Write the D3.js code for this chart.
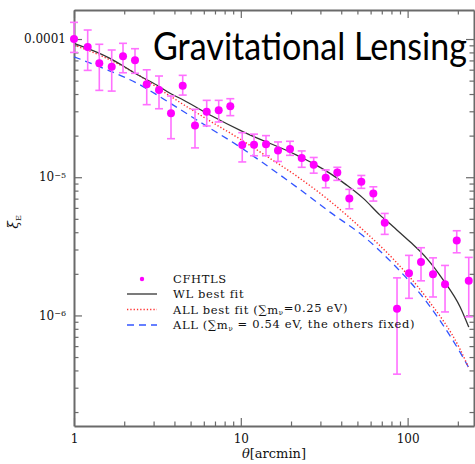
<!DOCTYPE html>
<html>
<head>
<meta charset="utf-8">
<script src="https://cdn.jsdelivr.net/npm/d3@7/dist/d3.min.js"></script>
<style>
  html, body { margin: 0; padding: 0; background: #fff; }
  svg { display: block; }
</style>
</head>
<body>
<svg id="chart" width="475" height="464"></svg>
<script>
// CFHTLS shear correlation ξ_E(θ) measurements with 1σ errors
const theta = [1.00, 1.208, 1.418, 1.683, 1.967, 2.321, 2.729, 3.233, 3.815, 4.484,
  5.313, 6.246, 7.37, 8.65, 10.2, 12.0, 14.16, 16.71, 19.72, 23.18,
  27.35, 32.28, 37.89, 44.72, 52.78, 62.29, 72.91, 86.4, 101.9, 120.3,
  142.0, 167.6, 197.0, 232.5];
const xiE = [1.00e-4, 8.75e-5, 6.67e-5, 6.30e-5, 7.49e-5, 7.01e-5, 4.70e-5, 4.27e-5, 2.90e-5, 4.59e-5,
  2.37e-5, 2.98e-5, 3.05e-5, 3.26e-5, 1.71e-5, 1.72e-5, 1.73e-5, 1.56e-5, 1.60e-5, 1.38e-5,
  1.23e-5, 9.91e-6, 1.08e-5, 7.03e-6, 9.27e-6, 7.64e-6, 4.68e-6, 1.12e-6, 2.02e-6, 2.44e-6,
  1.99e-6, 1.68e-6, 3.49e-6, 1.78e-6];
const xiHi = [1.32e-4, 1.162e-4, 9.16e-5, 8.33e-5, 9.31e-5, 8.51e-5, 5.99e-5, 5.40e-5, 3.87e-5, 5.46e-5,
  3.10e-5, 3.60e-5, 3.60e-5, 3.70e-5, 2.10e-5, 2.05e-5, 2.00e-5, 1.80e-5, 1.82e-5, 1.55e-5,
  1.39e-5, 1.13e-5, 1.18e-5, 8.17e-6, 1.03e-5, 8.53e-6, 5.47e-6, 1.87e-6, 2.72e-6, 3.09e-6,
  2.61e-6, 2.30e-6, 4.10e-6, 2.63e-6];
const xiLo = [8.0e-5, 5.93e-5, 4.25e-5, 4.20e-5, 5.70e-5, 5.65e-5, 3.35e-5, 3.13e-5, 1.90e-5, 3.93e-5,
  1.63e-5, 2.35e-5, 2.51e-5, 2.79e-5, 1.29e-5, 1.43e-5, 1.43e-5, 1.30e-5, 1.44e-5, 1.18e-5,
  1.07e-5, 8.39e-6, 9.49e-6, 5.91e-6, 8.31e-6, 6.72e-6, 3.86e-6, 3.76e-7, 1.33e-6, 1.78e-6,
  1.36e-6, 1.06e-6, 2.84e-6, 9.77e-7];

// Model curves
const wlTheta = [1.00, 1.643, 1.975, 2.321, 3.13, 3.763, 4.521, 6.54, 10.35, 21.63,
  27.1, 34.26, 43.15, 54.26, 68.33, 82.1, 103.4, 130.2, 163.7, 206.1, 232.5];
const wlFit = [9.31e-5, 7.25e-5, 6.38e-5, 5.65e-5, 4.65e-5, 4.05e-5, 3.62e-5, 2.82e-5, 2.13e-5, 1.446e-5,
  1.26e-5, 1.066e-5, 8.77e-6, 7.03e-6, 5.32e-6, 4.38e-6, 3.41e-6, 2.59e-6, 1.80e-6, 1.154e-6, 8.23e-7];

const allTheta = [1.00, 1.499, 2.376, 3.763, 6.54, 10.35, 13.64, 21.63, 34.26, 54.26,
  82.1, 130.2, 206.1, 231.2];
const allFit = [9.05e-5, 7.44e-5, 5.58e-5, 3.87e-5, 2.55e-5, 1.827e-5, 1.471e-5, 1.019e-5, 6.72e-6, 4.14e-6,
  2.556e-6, 1.334e-6, 5.70e-7, 4.24e-7];

const nuTheta = [1.00, 1.499, 2.376, 3.763, 5.96, 9.89, 13.64, 21.63, 34.26, 54.26,
  82.1, 130.2, 206.1, 231.2];
const nuFixed = [7.44e-5, 6.14e-5, 4.80e-5, 3.44e-5, 2.425e-5, 1.653e-5, 1.266e-5, 8.48e-6, 5.59e-6, 3.75e-6,
  2.35e-6, 1.248e-6, 5.42e-7, 4.24e-7];

// Axis ticks
const xTicks = [1,2,3,4,5,6,7,8,9,10,20,30,40,50,60,70,80,90,100,200];
const xMajor = [1, 10, 100];
const xTickLabels = ["1", "10", "100"];
const yTicks = [2e-7,3e-7,4e-7,5e-7,6e-7,7e-7,8e-7,9e-7,1e-6,2e-6,3e-6,4e-6,5e-6,6e-6,7e-6,8e-6,9e-6,
  1e-5,2e-5,3e-5,4e-5,5e-5,6e-5,7e-5,8e-5,9e-5,1e-4];
const yMajor = [1e-6, 1e-5, 1e-4];

const svg = d3.select("#chart");
const plotL = 74, plotR = 474, plotT = 10, plotB = 426;
const serif = "'DejaVu Serif', 'Liberation Serif', serif";

const x = d3.scaleLog().domain([1, 250]).range([plotL, plotR]);
const y = d3.scaleLog().domain([Math.pow(10, -6.8), Math.pow(10, -3.79)]).range([plotB, plotT]);

const isMajor = (v, list) => list.some(m => Math.abs(v / m - 1) < 1e-6);
const axisColor = "#6a6a6a";

function styleAxis(g, majors, horizontal, sign) {
  g.select(".domain").attr("stroke", axisColor).attr("stroke-width", 2);
  g.selectAll(".tick line")
    .attr("stroke", axisColor)
    .attr("stroke-width", 1.2)
    .each(function(d) {
      const len = isMajor(d, majors) ? 8 : 4.5;
      d3.select(this).attr(horizontal ? "y2" : "x2", sign * len);
    });
}

// bottom axis
const gB = svg.append("g").attr("transform", `translate(0,${plotB})`)
  .call(d3.axisBottom(x).tickValues(xTicks).tickSizeOuter(0)
    .tickFormat(d => { const i = xMajor.findIndex(m => Math.abs(d / m - 1) < 1e-6); return i >= 0 ? xTickLabels[i] : ""; }));
styleAxis(gB, xMajor, true, -1);
gB.selectAll(".tick text").attr("y", 8).attr("dy", "0.71em")
  .attr("font-family", serif).attr("font-size", 12).attr("fill", "#111");

// top axis
const gT = svg.append("g").attr("transform", `translate(0,${plotT})`)
  .call(d3.axisTop(x).tickValues(xTicks).tickSizeOuter(0).tickFormat(""));
styleAxis(gT, xMajor, true, 1);

// left axis
const gL = svg.append("g").attr("transform", `translate(${plotL},0)`)
  .call(d3.axisLeft(y).tickValues(yTicks).tickSizeOuter(0).tickFormat(""));
styleAxis(gL, yMajor, false, 1);

// right axis
const gR = svg.append("g").attr("transform", `translate(${plotR},0)`)
  .call(d3.axisRight(y).tickValues(yTicks).tickSizeOuter(0).tickFormat(""));
styleAxis(gR, yMajor, false, -1);

// y tick labels
const yLab = svg.append("g").attr("font-family", serif).attr("font-size", 12).attr("fill", "#111")
  .attr("text-anchor", "end");
yLab.append("text").attr("x", plotL - 8).attr("y", y(1e-4)).attr("dy", "0.35em").text("0.0001");
[[1e-5, "−5"], [1e-6, "−6"]].forEach(([v, e]) => {
  const t = yLab.append("text").attr("x", plotL - 8).attr("y", y(v)).attr("dy", "0.35em");
  t.append("tspan").text("10");
  t.append("tspan").attr("dy", "-0.45em").attr("font-size", 8).text(e);
});

// axis titles
const xt = svg.append("text").attr("x", (plotL + plotR) / 2).attr("y", 458)
  .attr("text-anchor", "middle").attr("font-family", serif).attr("font-size", 13).attr("fill", "#111");
xt.append("tspan").attr("font-style", "italic").text("θ");
xt.append("tspan").text("[arcmin]");

const yt = svg.append("text").attr("transform", `translate(18,${(plotT + plotB) / 2 + 4}) rotate(-90)`)
  .attr("text-anchor", "middle").attr("font-family", serif).attr("font-size", 14).attr("fill", "#111");
yt.append("tspan").attr("font-style", "italic").text("ξ");
yt.append("tspan").attr("dy", "0.35em").attr("font-size", 8).text("E");

// model curves
const line = (xs, ys) => d3.line().x((d, i) => x(xs[i])).y((d, i) => y(ys[i])).curve(d3.curveMonotoneX)(ys);
const curves = svg.append("g").attr("fill", "none");
curves.append("path").attr("d", line(nuTheta, nuFixed))
  .attr("stroke", "#3355ff").attr("stroke-width", 1.3).attr("stroke-dasharray", "7,5");
curves.append("path").attr("d", line(allTheta, allFit))
  .attr("stroke", "#ff3030").attr("stroke-width", 1.4).attr("stroke-dasharray", "1.3,2");
curves.append("path").attr("d", line(wlTheta, wlFit))
  .attr("stroke", "#333").attr("stroke-width", 1.3);

// error bars and points
const pts = svg.append("g");
const errColor = "#ff70ff";
theta.forEach((t, i) => {
  const cx = x(t);
  pts.append("line").attr("x1", cx).attr("x2", cx).attr("y1", y(xiHi[i])).attr("y2", y(xiLo[i]))
    .attr("stroke", errColor).attr("stroke-width", 1.6);
  [xiHi[i], xiLo[i]].forEach(v => {
    pts.append("line").attr("x1", cx - 4).attr("x2", cx + 4).attr("y1", y(v)).attr("y2", y(v))
      .attr("stroke", errColor).attr("stroke-width", 1.6);
  });
});
pts.selectAll("circle").data(theta).join("circle")
  .attr("cx", d => x(d)).attr("cy", (d, i) => y(xiE[i])).attr("r", 4).attr("fill", "#ff00ff");

// legend
const lg = svg.append("g").attr("font-family", serif).attr("font-size", 11.5)
  .attr("letter-spacing", 0.65).attr("fill", "#111");
const legendRows = [279, 294, 309.5, 325];
lg.append("circle").attr("cx", 142).attr("cy", legendRows[0]).attr("r", 2.2).attr("fill", "#ff00ff");
lg.append("line").attr("x1", 127).attr("x2", 157).attr("y1", legendRows[1]).attr("y2", legendRows[1])
  .attr("stroke", "#333").attr("stroke-width", 1.3);
lg.append("line").attr("x1", 127).attr("x2", 157).attr("y1", legendRows[2]).attr("y2", legendRows[2])
  .attr("stroke", "#ff3030").attr("stroke-width", 1.4).attr("stroke-dasharray", "1.3,2");
lg.append("line").attr("x1", 127).attr("x2", 157).attr("y1", legendRows[3]).attr("y2", legendRows[3])
  .attr("stroke", "#3355ff").attr("stroke-width", 1.3).attr("stroke-dasharray", "7,5");

const tx = 173;
lg.append("text").attr("x", tx).attr("y", legendRows[0]).attr("dy", "0.35em").text("CFHTLS");
lg.append("text").attr("x", tx).attr("y", legendRows[1]).attr("dy", "0.35em").text("WL best fit");
const l3 = lg.append("text").attr("x", tx).attr("y", legendRows[2]).attr("dy", "0.35em");
l3.append("tspan").text("ALL best fit (∑m");
l3.append("tspan").attr("dy", "0.25em").attr("font-size", 7).text("ν");
l3.append("tspan").attr("dy", "-0.25em").text("=0.25 eV)");
const l4 = lg.append("text").attr("x", tx).attr("y", legendRows[3]).attr("dy", "0.35em");
l4.append("tspan").text("ALL (∑m");
l4.append("tspan").attr("dy", "0.25em").attr("font-size", 7).text("ν");
l4.append("tspan").attr("dy", "-0.25em").text(" = 0.54 eV, the others fixed)");

// slide title, squeezed horizontally to its box width
const title = svg.append("text")
  .attr("font-family", "Lato, 'Open Sans', sans-serif").attr("font-size", 39).attr("fill", "#000")
  .text("Gravitational Lensing");
const natural = title.node().getComputedTextLength();
title.attr("transform", `translate(153,60) scale(${314 / natural},1)`);
</script>
</body>
</html>
